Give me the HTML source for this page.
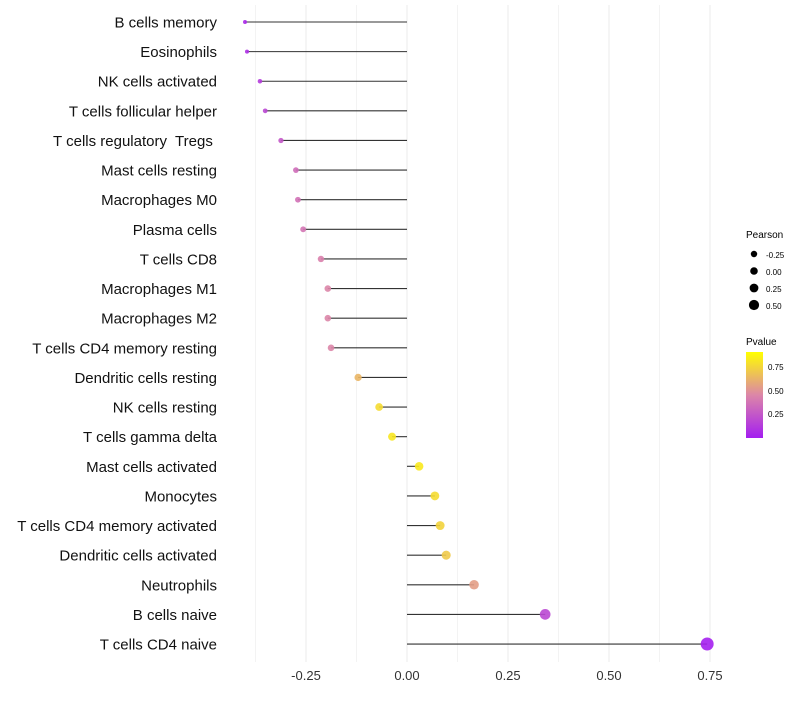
<!DOCTYPE html>
<html><head><meta charset="utf-8"><style>
body{margin:0;background:#fff;font-family:"Liberation Sans",sans-serif}
</style></head><body>
<svg id="c" width="800" height="700" xmlns="http://www.w3.org/2000/svg">
<defs><linearGradient id="pg" x1="0" y1="1" x2="0" y2="0">
<stop offset="0" stop-color="#a41ef0"/><stop offset="0.5" stop-color="#dc86a8"/><stop offset="1" stop-color="#ffff00"/></linearGradient></defs>
<g id="grid"></g><g id="marks"></g><g id="labels"></g>
<g font-size="10" fill="#000">
<text x="746" y="238" font-size="10">Pearson</text>
<circle cx="754" cy="254" r="3.2"/><text x="766" y="258" font-size="8">-0.25</text>
<circle cx="754" cy="271" r="3.8"/><text x="766" y="275" font-size="8">0.00</text>
<circle cx="754" cy="288" r="4.4"/><text x="766" y="292" font-size="8">0.25</text>
<circle cx="754" cy="305" r="5.1"/><text x="766" y="309" font-size="8">0.50</text>
<text x="746" y="345" font-size="10">Pvalue</text>
<rect x="746" y="352" width="17" height="86" fill="url(#pg)"/>
<text x="768" y="370" font-size="8">0.75</text><text x="768" y="394" font-size="8">0.50</text><text x="768" y="417" font-size="8">0.25</text>
</g>
</svg>
<script>
const categories=["B cells memory","Eosinophils","NK cells activated","T cells follicular helper","T cells regulatory  Tregs ","Mast cells resting","Macrophages M0","Plasma cells","T cells CD8","Macrophages M1","Macrophages M2","T cells CD4 memory resting","Dendritic cells resting","NK cells resting","T cells gamma delta","Mast cells activated","Monocytes","T cells CD4 memory activated","Dendritic cells activated","Neutrophils","B cells naive","T cells CD4 naive"];
const pearson=[-0.401,-0.396,-0.364,-0.351,-0.312,-0.275,-0.270,-0.257,-0.213,-0.196,-0.196,-0.188,-0.121,-0.069,-0.037,0.030,0.069,0.082,0.097,0.166,0.342,0.743];
const pvalue=[0.05,0.08,0.14,0.2,0.28,0.38,0.4,0.42,0.47,0.5,0.5,0.5,0.7,0.85,0.9,0.91,0.85,0.82,0.78,0.6,0.2,0.01];
const ticks=[-0.25,0,0.25,0.5,0.75];
const tickLabels=["-0.25","0.00","0.25","0.50","0.75"];
const NS="http://www.w3.org/2000/svg";
const X=v=>407+v*404, Y=i=>22+i*29.62;
function lerp(a,b,t){return a.map((x,k)=>Math.round(x+(b[k]-x)*t));}
function col(p){const s=[[164,30,240],[220,134,168],[255,255,0]];const t=Math.max(0,Math.min(1,p));const c=t<0.5?lerp(s[0],s[1],t*2):lerp(s[1],s[2],(t-0.5)*2);return`rgb(${c})`;}
function mk(tag,at,par){const e=document.createElementNS(NS,tag);for(const k in at)e.setAttribute(k,at[k]);document.getElementById(par).appendChild(e);return e;}
for(let v=-0.375;v<=0.76;v+=0.125){const l=mk("line",{x1:X(v),x2:X(v),y1:5,y2:662,stroke:"#ebebeb","stroke-width":Math.abs(v*8-Math.round(v*8))<1e-6&&Math.round(v*8)%2===0?1:0.6},"grid");

}
ticks.forEach((t,i)=>{const e=mk("text",{x:X(t),y:680,"text-anchor":"middle","font-size":13,fill:"#333"},"labels");e.textContent=tickLabels[i];

});
categories.forEach((c,i)=>{
const s=mk("line",{x1:X(0),x2:X(pearson[i]),y1:Y(i),y2:Y(i),stroke:"#333","stroke-width":1.1},"marks");


const r=Math.sqrt(Math.max(1,17.3+33.3*pearson[i]));
const d=mk("circle",{cx:X(pearson[i]),cy:Y(i),r:r,fill:col(pvalue[i]),"fill-opacity":0.9},"marks");


const t=mk("text",{x:217,y:Y(i)+5.5,"text-anchor":"end","font-size":15,fill:"#111","xml:space":"preserve"},"labels");
t.style.whiteSpace="pre";
t.textContent=c;


});
</script>
</body></html>
